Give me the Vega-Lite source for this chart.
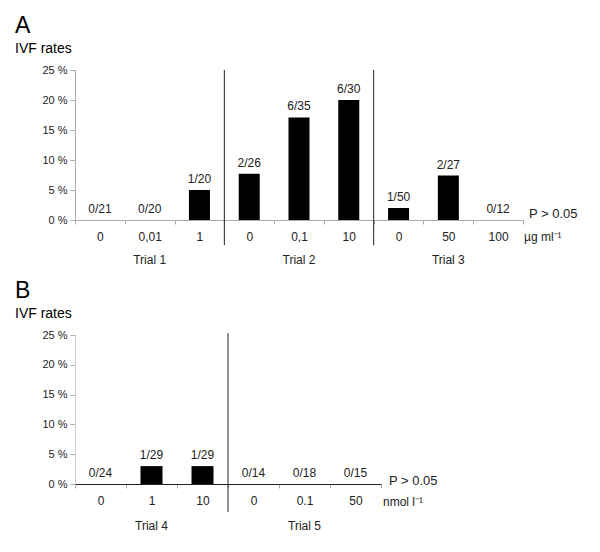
{
  "$schema": "https://vega.github.io/schema/vega-lite/v6.json",
  "config": {
    "font": "Liberation Sans",
    "view": {"stroke": null},
    "axis": {"labelColor": "#222", "labelFont": "Liberation Sans"},
    "title": {"font": "Liberation Sans", "subtitleFont": "Liberation Sans"}
  },
  "padding": {"left": 15, "top": 15, "right": 5, "bottom": 5},
  "spacing": 14,
  "vconcat": [
    {
      "title": {"text": "A", "subtitle": "IVF rates", "anchor": "start", "frame": "group", "dx": -60, "fontSize": 23, "fontWeight": "normal", "color": "black", "subtitleFontSize": 14, "subtitleColor": "black", "subtitlePadding": 4, "offset": 8},
      "width": 448,
      "height": 150,
      "layer": [
        {
          "data": {"values": [
            {"key": "1|0", "trial": "Trial 1", "dose": "0", "rate": 0, "label": "0/21"},
            {"key": "1|0,01", "trial": "Trial 1", "dose": "0,01", "rate": 0, "label": "0/20"},
            {"key": "1|1", "trial": "Trial 1", "dose": "1", "rate": 5, "label": "1/20"},
            {"key": "2|0", "trial": "Trial 2", "dose": "0", "rate": 7.7, "label": "2/26"},
            {"key": "2|0,1", "trial": "Trial 2", "dose": "0,1", "rate": 17.1, "label": "6/35"},
            {"key": "2|10", "trial": "Trial 2", "dose": "10", "rate": 20, "label": "6/30"},
            {"key": "3|0", "trial": "Trial 3", "dose": "0", "rate": 2, "label": "1/50"},
            {"key": "3|50", "trial": "Trial 3", "dose": "50", "rate": 7.4, "label": "2/27"},
            {"key": "3|100", "trial": "Trial 3", "dose": "100", "rate": 0, "label": "0/12"}
          ]},
          "layer": [
            {
              "mark": {"type": "bar", "width": 21, "color": "black"},
              "encoding": {
                "x": {"field": "key", "type": "ordinal", "sort": null,
                  "scale": {"paddingInner": 0, "paddingOuter": 0},
                  "axis": {"title": null, "labelAngle": 0, "labelExpr": "split(datum.value, '|')[1]", "tickBand": "extent", "tickSize": 4, "tickColor": "#aaa", "domainColor": "#aaa", "labelFontSize": 12, "labelPadding": 7}},
                "y": {"field": "rate", "type": "quantitative",
                  "scale": {"domain": [0, 25], "nice": false},
                  "axis": {"title": null, "values": [0, 5, 10, 15, 20, 25], "labelExpr": "datum.value + ' %'", "grid": false, "tickSize": 5, "tickColor": "#aaa", "domainColor": "#aaa", "labelFontSize": 11, "labelPadding": 3, "labelOverlap": false}}
              }
            },
            {
              "mark": {"type": "text", "baseline": "bottom", "dy": -4, "fontSize": 12, "color": "#222"},
              "encoding": {
                "x": {"field": "key", "type": "ordinal", "sort": null},
                "y": {"field": "rate", "type": "quantitative",
                  "axis": {"title": null, "values": [0, 5, 10, 15, 20, 25], "labelExpr": "datum.value + ' %'", "grid": false, "tickSize": 5, "tickColor": "#aaa", "domainColor": "#aaa", "labelFontSize": 11, "labelPadding": 3, "labelOverlap": false}},
                "text": {"field": "label"}
              }
            }
          ]
        },
        {
          "data": {"values": [{"key": "2|0"}, {"key": "3|0"}]},
          "mark": {"type": "rule", "color": "#222", "strokeWidth": 1},
          "encoding": {
            "x": {"field": "key", "type": "ordinal", "sort": null, "bandPosition": 0},
            "y": {"datum": 25,
              "axis": {"title": null, "values": [0, 5, 10, 15, 20, 25], "labelExpr": "datum.value + ' %'", "grid": false, "tickSize": 5, "tickColor": "#aaa", "domainColor": "#aaa", "labelFontSize": 11, "labelPadding": 3, "labelOverlap": false}},
            "y2": {"datum": -4.2}
          }
        },
        {
          "data": {"values": [{"key": "1|0,01", "trial": "Trial 1"}, {"key": "2|0,1", "trial": "Trial 2"}, {"key": "3|50", "trial": "Trial 3"}]},
          "mark": {"type": "text", "baseline": "middle", "dy": 40, "fontSize": 12, "color": "#222"},
          "encoding": {
            "x": {"field": "key", "type": "ordinal", "sort": null},
            "y": {"datum": 0,
              "axis": {"title": null, "values": [0, 5, 10, 15, 20, 25], "labelExpr": "datum.value + ' %'", "grid": false, "tickSize": 5, "tickColor": "#aaa", "domainColor": "#aaa", "labelFontSize": 11, "labelPadding": 3, "labelOverlap": false}},
            "text": {"field": "trial"}
          }
        },
        {
          "data": {"values": [{"key": "3|100", "note": "P > 0.05"}]},
          "mark": {"type": "text", "align": "left", "baseline": "middle", "dx": 6, "dy": -6, "fontSize": 13, "color": "#222"},
          "encoding": {
            "x": {"field": "key", "type": "ordinal", "sort": null, "bandPosition": 1},
            "y": {"datum": 0,
              "axis": {"title": null, "values": [0, 5, 10, 15, 20, 25], "labelExpr": "datum.value + ' %'", "grid": false, "tickSize": 5, "tickColor": "#aaa", "domainColor": "#aaa", "labelFontSize": 11, "labelPadding": 3, "labelOverlap": false}},
            "text": {"field": "note"}
          }
        },
        {
          "data": {"values": [{"key": "3|100", "note": "µg ml⁻¹"}]},
          "mark": {"type": "text", "align": "left", "baseline": "middle", "dx": 1, "dy": 17, "fontSize": 12, "color": "#222"},
          "encoding": {
            "x": {"field": "key", "type": "ordinal", "sort": null, "bandPosition": 1},
            "y": {"datum": 0,
              "axis": {"title": null, "values": [0, 5, 10, 15, 20, 25], "labelExpr": "datum.value + ' %'", "grid": false, "tickSize": 5, "tickColor": "#aaa", "domainColor": "#aaa", "labelFontSize": 11, "labelPadding": 3, "labelOverlap": false}},
            "text": {"field": "note"}
          }
        }
      ]
    },
    {
      "title": {"text": "B", "subtitle": "IVF rates", "anchor": "start", "frame": "group", "dx": -60, "fontSize": 23, "fontWeight": "normal", "color": "black", "subtitleFontSize": 14, "subtitleColor": "black", "subtitlePadding": 4, "offset": 8},
      "width": 306,
      "height": 149,
      "layer": [
        {
          "data": {"values": [
            {"key": "4|0", "trial": "Trial 4", "dose": "0", "rate": 0, "label": "0/24"},
            {"key": "4|1", "trial": "Trial 4", "dose": "1", "rate": 3, "label": "1/29"},
            {"key": "4|10", "trial": "Trial 4", "dose": "10", "rate": 3, "label": "1/29"},
            {"key": "5|0", "trial": "Trial 5", "dose": "0", "rate": 0, "label": "0/14"},
            {"key": "5|0.1", "trial": "Trial 5", "dose": "0.1", "rate": 0, "label": "0/18"},
            {"key": "5|50", "trial": "Trial 5", "dose": "50", "rate": 0, "label": "0/15"}
          ]},
          "layer": [
            {
              "mark": {"type": "bar", "width": 22, "color": "black"},
              "encoding": {
                "x": {"field": "key", "type": "ordinal", "sort": null,
                  "scale": {"paddingInner": 0, "paddingOuter": 0},
                  "axis": {"title": null, "labelAngle": 0, "labelExpr": "split(datum.value, '|')[1]", "tickBand": "extent", "tickSize": 4, "tickColor": "#aaa", "domainColor": "#222", "labelFontSize": 12, "labelPadding": 7}},
                "y": {"field": "rate", "type": "quantitative",
                  "scale": {"domain": [0, 25], "nice": false},
                  "axis": {"title": null, "values": [0, 5, 10, 15, 20, 25], "labelExpr": "datum.value + ' %'", "grid": false, "tickSize": 5, "tickColor": "#aaa", "domainColor": "#ccc", "labelFontSize": 11, "labelPadding": 3, "labelOverlap": false}}
              }
            },
            {
              "mark": {"type": "text", "baseline": "bottom", "dy": -4, "fontSize": 12, "color": "#222"},
              "encoding": {
                "x": {"field": "key", "type": "ordinal", "sort": null},
                "y": {"field": "rate", "type": "quantitative",
                  "axis": {"title": null, "values": [0, 5, 10, 15, 20, 25], "labelExpr": "datum.value + ' %'", "grid": false, "tickSize": 5, "tickColor": "#aaa", "domainColor": "#ccc", "labelFontSize": 11, "labelPadding": 3, "labelOverlap": false}},
                "text": {"field": "label"}
              }
            }
          ]
        },
        {
          "data": {"values": [{"key": "5|0"}]},
          "mark": {"type": "rule", "color": "#222", "strokeWidth": 1},
          "encoding": {
            "x": {"field": "key", "type": "ordinal", "sort": null, "bandPosition": 0},
            "y": {"datum": 25.3,
              "axis": {"title": null, "values": [0, 5, 10, 15, 20, 25], "labelExpr": "datum.value + ' %'", "grid": false, "tickSize": 5, "tickColor": "#aaa", "domainColor": "#ccc", "labelFontSize": 11, "labelPadding": 3, "labelOverlap": false}},
            "y2": {"datum": -4.7}
          }
        },
        {
          "data": {"values": [{"key": "4|1", "trial": "Trial 4"}, {"key": "5|0.1", "trial": "Trial 5"}]},
          "mark": {"type": "text", "baseline": "middle", "dy": 42, "fontSize": 12, "color": "#222"},
          "encoding": {
            "x": {"field": "key", "type": "ordinal", "sort": null},
            "y": {"datum": 0,
              "axis": {"title": null, "values": [0, 5, 10, 15, 20, 25], "labelExpr": "datum.value + ' %'", "grid": false, "tickSize": 5, "tickColor": "#aaa", "domainColor": "#ccc", "labelFontSize": 11, "labelPadding": 3, "labelOverlap": false}},
            "text": {"field": "trial"}
          }
        },
        {
          "data": {"values": [{"key": "5|50", "note": "P > 0.05"}]},
          "mark": {"type": "text", "align": "left", "baseline": "middle", "dx": 8, "dy": -3, "fontSize": 13, "color": "#222"},
          "encoding": {
            "x": {"field": "key", "type": "ordinal", "sort": null, "bandPosition": 1},
            "y": {"datum": 0,
              "axis": {"title": null, "values": [0, 5, 10, 15, 20, 25], "labelExpr": "datum.value + ' %'", "grid": false, "tickSize": 5, "tickColor": "#aaa", "domainColor": "#ccc", "labelFontSize": 11, "labelPadding": 3, "labelOverlap": false}},
            "text": {"field": "note"}
          }
        },
        {
          "data": {"values": [{"key": "5|50", "note": "nmol l⁻¹"}]},
          "mark": {"type": "text", "align": "left", "baseline": "middle", "dx": 2, "dy": 18, "fontSize": 12, "color": "#222"},
          "encoding": {
            "x": {"field": "key", "type": "ordinal", "sort": null, "bandPosition": 1},
            "y": {"datum": 0,
              "axis": {"title": null, "values": [0, 5, 10, 15, 20, 25], "labelExpr": "datum.value + ' %'", "grid": false, "tickSize": 5, "tickColor": "#aaa", "domainColor": "#ccc", "labelFontSize": 11, "labelPadding": 3, "labelOverlap": false}},
            "text": {"field": "note"}
          }
        }
      ]
    }
  ]
}
